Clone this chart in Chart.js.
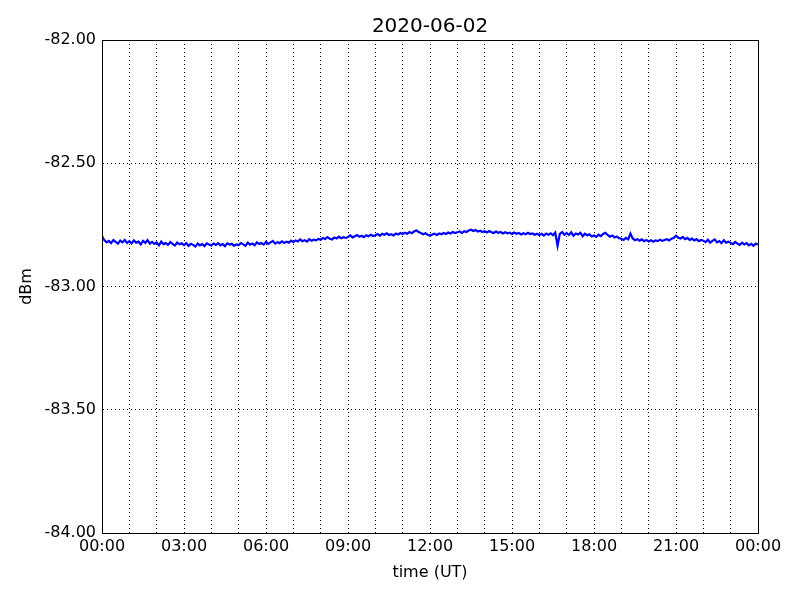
<!DOCTYPE html>
<html>
<head>
<meta charset="utf-8">
<script src="https://cdn.jsdelivr.net/npm/chart.js@4/dist/chart.umd.min.js"></script>
<style>
  body { margin: 0; background: #fff; }
  #grafico { display: block; }
</style>
</head>
<body>
<canvas id="grafico" width="800" height="600"></canvas>
<script>
const titulo = "2020-06-02";
const passoMinutos = 5;

// dBm, um valor a cada 5 minutos, uma linha por hora
const sinal = [
  -82.795, -82.812, -82.821, -82.815, -82.824, -82.812, -82.819, -82.826, -82.814, -82.821, -82.811, -82.823,
  -82.816, -82.825, -82.813, -82.822, -82.818, -82.829, -82.815, -82.823, -82.812, -82.826, -82.819, -82.827,
  -82.821, -82.833, -82.818, -82.828, -82.824, -82.831, -82.820, -82.827, -82.834, -82.822, -82.829, -82.825,
  -82.832, -82.824, -82.835, -82.827, -82.831, -82.838, -82.826, -82.833, -82.828, -82.836, -82.825, -82.830,
  -82.834, -82.826, -82.831, -82.824, -82.833, -82.828, -82.836, -82.825, -82.830, -82.827, -82.835, -82.829,
  -82.832, -82.824, -82.829, -82.835, -82.822, -82.830, -82.826, -82.833, -82.821, -82.828, -82.824, -82.830,
  -82.819, -82.827, -82.821, -82.815, -82.826, -82.820, -82.824, -82.817, -82.823, -82.818, -82.822, -82.814,
  -82.820, -82.813, -82.817, -82.809, -82.816, -82.812, -82.818, -82.808, -82.814, -82.810, -82.813, -82.807,
  -82.810, -82.803, -82.807, -82.800, -82.806, -82.809, -82.801, -82.805, -82.798, -82.804, -82.800, -82.803,
  -82.799, -82.793, -82.801, -82.796, -82.791, -82.798, -82.794, -82.800, -82.792, -82.796, -82.790, -82.795,
  -82.792, -82.787, -82.794, -82.786, -82.790, -82.784, -82.791, -82.788, -82.793, -82.785, -82.789, -82.783,
  -82.787, -82.782, -82.786, -82.779, -82.784, -82.777, -82.772, -82.779, -82.783, -82.788, -82.784, -82.790,
  -82.793, -82.789, -82.786, -82.791, -82.785, -82.788, -82.783, -82.787, -82.781, -82.785, -82.779, -82.783,
  -82.780, -82.777, -82.783, -82.776, -82.779, -82.773, -82.770, -82.775, -82.771, -82.777, -82.774, -82.779,
  -82.776, -82.781, -82.775, -82.780, -82.783, -82.777, -82.782, -82.779, -82.785, -82.780, -82.784, -82.782,
  -82.787, -82.781, -82.786, -82.783, -82.789, -82.784, -82.788, -82.782, -82.787, -82.785, -82.790, -82.786,
  -82.791, -82.786, -82.793, -82.785, -82.790, -82.784, -82.792, -82.781, -82.835, -82.786, -82.779, -82.790,
  -82.783, -82.791, -82.780, -82.794, -82.785, -82.789, -82.782, -82.796, -82.786, -82.792, -82.788, -82.797,
  -82.793, -82.799, -82.790, -82.796, -82.787, -82.782, -82.791, -82.798, -82.793, -82.801, -82.797, -82.804,
  -82.806, -82.811, -82.803, -82.809, -82.785, -82.805, -82.812, -82.808, -82.814, -82.809, -82.816, -82.811,
  -82.817, -82.812, -82.818, -82.813, -82.816, -82.810, -82.815, -82.811, -82.808, -82.813, -82.806, -82.803,
  -82.794, -82.802, -82.805, -82.799, -82.808, -82.803, -82.811, -82.806, -82.813, -82.808, -82.816, -82.811,
  -82.814, -82.820, -82.810, -82.822, -82.815, -82.809, -82.821, -82.816, -82.824, -82.812, -82.822, -82.818,
  -82.823, -82.828, -82.819, -82.826, -82.831, -82.822, -82.829, -82.824, -82.833, -82.827, -82.835, -82.826,
  -82.830
];

const ticksY = [-84, -83.5, -83, -82.5, -82];

function formatarHora(h) {
  const hora = h % 24;
  return (hora < 10 ? "0" : "") + hora + ":00";
}

const pontos = sinal.map((v, i) => ({ x: (i * passoMinutos) / 60, y: v }));

// moldura preta e titulo centrado sobre a area do grafico
const moldura = {
  id: "moldura",
  afterDraw(chart) {
    const { ctx, chartArea: a } = chart;
    ctx.save();
    ctx.strokeStyle = "#000";
    ctx.lineWidth = 1;
    ctx.strokeRect(Math.round(a.left) + 0.5, Math.round(a.top) + 0.5,
      Math.round(a.right - a.left), Math.round(a.bottom - a.top));
    ctx.fillStyle = "#000";
    ctx.font = "20px 'DejaVu Sans'";
    ctx.textAlign = "center";
    ctx.textBaseline = "middle";
    ctx.fillText(titulo, (a.left + a.right) / 2, 27);
    ctx.restore();
  }
};

const fundo = {
  id: "fundo",
  beforeDraw(chart) {
    const ctx = chart.ctx;
    ctx.save();
    ctx.fillStyle = "#fff";
    ctx.fillRect(0, 0, chart.width, chart.height);
    ctx.restore();
  }
};

const fonte = { family: "DejaVu Sans", size: 16 };

new Chart(document.getElementById("grafico"), {
  type: "line",
  data: {
    datasets: [
      {
        data: pontos,
        borderColor: "#0000ff",
        borderWidth: 2.2,
        pointRadius: 0,
        tension: 0,
        fill: false
      }
    ]
  },
  options: {
    responsive: false,
    animation: false,
    layout: { padding: { left: 0, right: 42, top: 40, bottom: 0 } },
    plugins: {
      legend: { display: false },
      tooltip: { enabled: false },
      title: { display: false }
    },
    scales: {
      x: {
        type: "linear",
        min: 0,
        max: 24,
        afterFit(scale) { scale.height = 67; },
        ticks: {
          stepSize: 1,
          autoSkip: false,
          maxRotation: 0,
          color: "#000",
          font: fonte,
          padding: 4,
          callback: v => (v % 3 === 0 ? formatarHora(v) : "")
        },
        grid: { color: "#000", lineWidth: 1, drawTicks: false },
        border: { display: true, color: "#000", dash: [1, 3] },
        title: {
          display: true,
          text: "time (UT)",
          color: "#000",
          font: fonte,
          padding: { top: 0, bottom: 18 }
        }
      },
      y: {
        min: -84,
        max: -82,
        afterFit(scale) { scale.width = 102; },
        afterBuildTicks(scale) { scale.ticks = ticksY.map(v => ({ value: v })); },
        ticks: {
          color: "#000",
          font: fonte,
          padding: 6,
          callback: v => v.toFixed(2)
        },
        grid: { color: "#000", lineWidth: 1, drawTicks: false },
        border: { display: true, color: "#000", dash: [1, 3] },
        title: {
          display: true,
          text: "dBm",
          color: "#000",
          font: fonte,
          padding: { top: 17, bottom: 0 }
        }
      }
    }
  },
  plugins: [fundo, moldura]
});
</script>
</body>
</html>
